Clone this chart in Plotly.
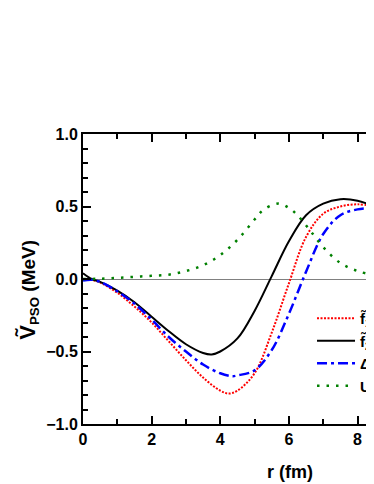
import plotly.graph_objects as go

# r grid (fm) and potentials (MeV)
r_black = [0, 0.25, 0.5, 1.0, 1.5, 2.0, 2.5, 3.0, 3.5, 3.75, 4.0, 4.5, 5.0, 5.5, 6.0, 6.5, 7.0, 7.5, 8.0, 8.5]
v_black = [0.04, 0.0, -0.02, -0.08, -0.16, -0.26, -0.36, -0.45, -0.51, -0.52, -0.50, -0.41, -0.22, 0.02,
           0.26, 0.44, 0.52, 0.55, 0.54, 0.50]

r_red = [0, 0.25, 0.5, 1.0, 1.5, 2.0, 2.5, 3.0, 3.5, 4.0, 4.25, 4.5, 5.0, 5.5, 6.0, 6.5, 7.0, 7.5, 8.0, 8.5]
v_red = [0.0, -0.005, -0.025, -0.095, -0.19, -0.30, -0.43, -0.56, -0.68, -0.77, -0.79, -0.77, -0.65, -0.37,
         -0.03, 0.29, 0.45, 0.50, 0.515, 0.50]

r_blue = [0, 0.25, 0.5, 1.0, 1.5, 2.0, 2.5, 3.0, 3.5, 4.0, 4.35, 4.5, 5.0, 5.5, 6.0, 6.5, 7.0, 7.5, 8.0, 8.5]
v_blue = [-0.01, -0.005, -0.02, -0.085, -0.17, -0.28, -0.40, -0.50, -0.59, -0.65, -0.67, -0.665, -0.63, -0.49,
          -0.24, 0.05, 0.31, 0.44, 0.48, 0.49]

r_green = [0, 0.5, 1.0, 1.5, 2.0, 2.5, 3.0, 3.5, 4.0, 4.5, 5.0, 5.25, 5.7, 6.0, 6.25, 6.6, 7.0, 7.5, 8.0, 8.5]
v_green = [0.0, 0.002, 0.008, 0.015, 0.022, 0.03, 0.055, 0.095, 0.165, 0.27, 0.41, 0.475, 0.52, 0.49, 0.44,
           0.34, 0.22, 0.11, 0.055, 0.025]

names = ["f̃<sub>1</sub>(r)", "f̃<sub>2</sub>(r)", "Δ(r)", "U(r)"]

font = dict(family="Arial, Liberation Sans, sans-serif", size=16, color="black", weight="bold")

fig = go.Figure()
fig.add_trace(go.Scatter(x=r_red, y=v_red, name=names[0], mode="lines", line_shape="spline",
                         line=dict(color="#ff0000", width=2, dash="2px,1.5px")))
fig.add_trace(go.Scatter(x=r_black, y=v_black, name=names[1], mode="lines", line_shape="spline",
                         line=dict(color="black", width=2)))
fig.add_trace(go.Scatter(x=r_blue, y=v_blue, name=names[2], mode="lines", line_shape="spline",
                         line=dict(color="#0000ff", width=2.5, dash="10px,4px,3px,4px")))
fig.add_trace(go.Scatter(x=r_green, y=v_green, name=names[3], mode="lines", line_shape="spline",
                         line=dict(color="#008000", width=2.5, dash="2.5px,7px")))

axis_common = dict(
    showline=True, linecolor="black", linewidth=2,
    ticks="inside", ticklen=8, tickwidth=2, tickcolor="black",
    showgrid=False, tickfont=font,
)

fig.update_xaxes(range=[0, 8.48], dtick=2, tick0=0, mirror="allticks",
                 minor=dict(dtick=1, ticks="inside", ticklen=5, tickwidth=2, tickcolor="black"),
                 zeroline=False, **axis_common)
fig.update_yaxes(range=[-1.0, 1.0], dtick=0.5, tickformat=".1f", mirror=False,
                 minor=dict(dtick=0.1, ticks="inside", ticklen=5, tickwidth=2, tickcolor="black"),
                 zeroline=True, zerolinecolor="#808080", zerolinewidth=1,
                 **axis_common)

# axis titles as annotations (the original figure is cropped on the right)
fig.add_annotation(text="r (fm)", xref="paper", yref="paper", x=0.711, y=-0.166,
                   showarrow=False, font=dict(font, size=18), xanchor="center", yanchor="middle")
fig.add_annotation(text="<span style='font-size:22px'>Ṽ</span><sub>PSO</sub> (MeV)",
                   xref="paper", yref="paper", x=-0.19, y=0.462, textangle=-90,
                   showarrow=False, font=dict(font, size=19), xanchor="center", yanchor="middle")

fig.update_layout(
    width=366, height=476,
    margin=dict(l=75, r=0, t=126, b=60, autoexpand=False),
    plot_bgcolor="white", paper_bgcolor="white",
    showlegend=True,
    legend=dict(x=0.787, y=0.421, xanchor="left", yanchor="top", itemwidth=38,
                font=dict(font, size=15), bgcolor="rgba(0,0,0,0)", tracegroupgap=0),
)

fig.write_html("out.html")
